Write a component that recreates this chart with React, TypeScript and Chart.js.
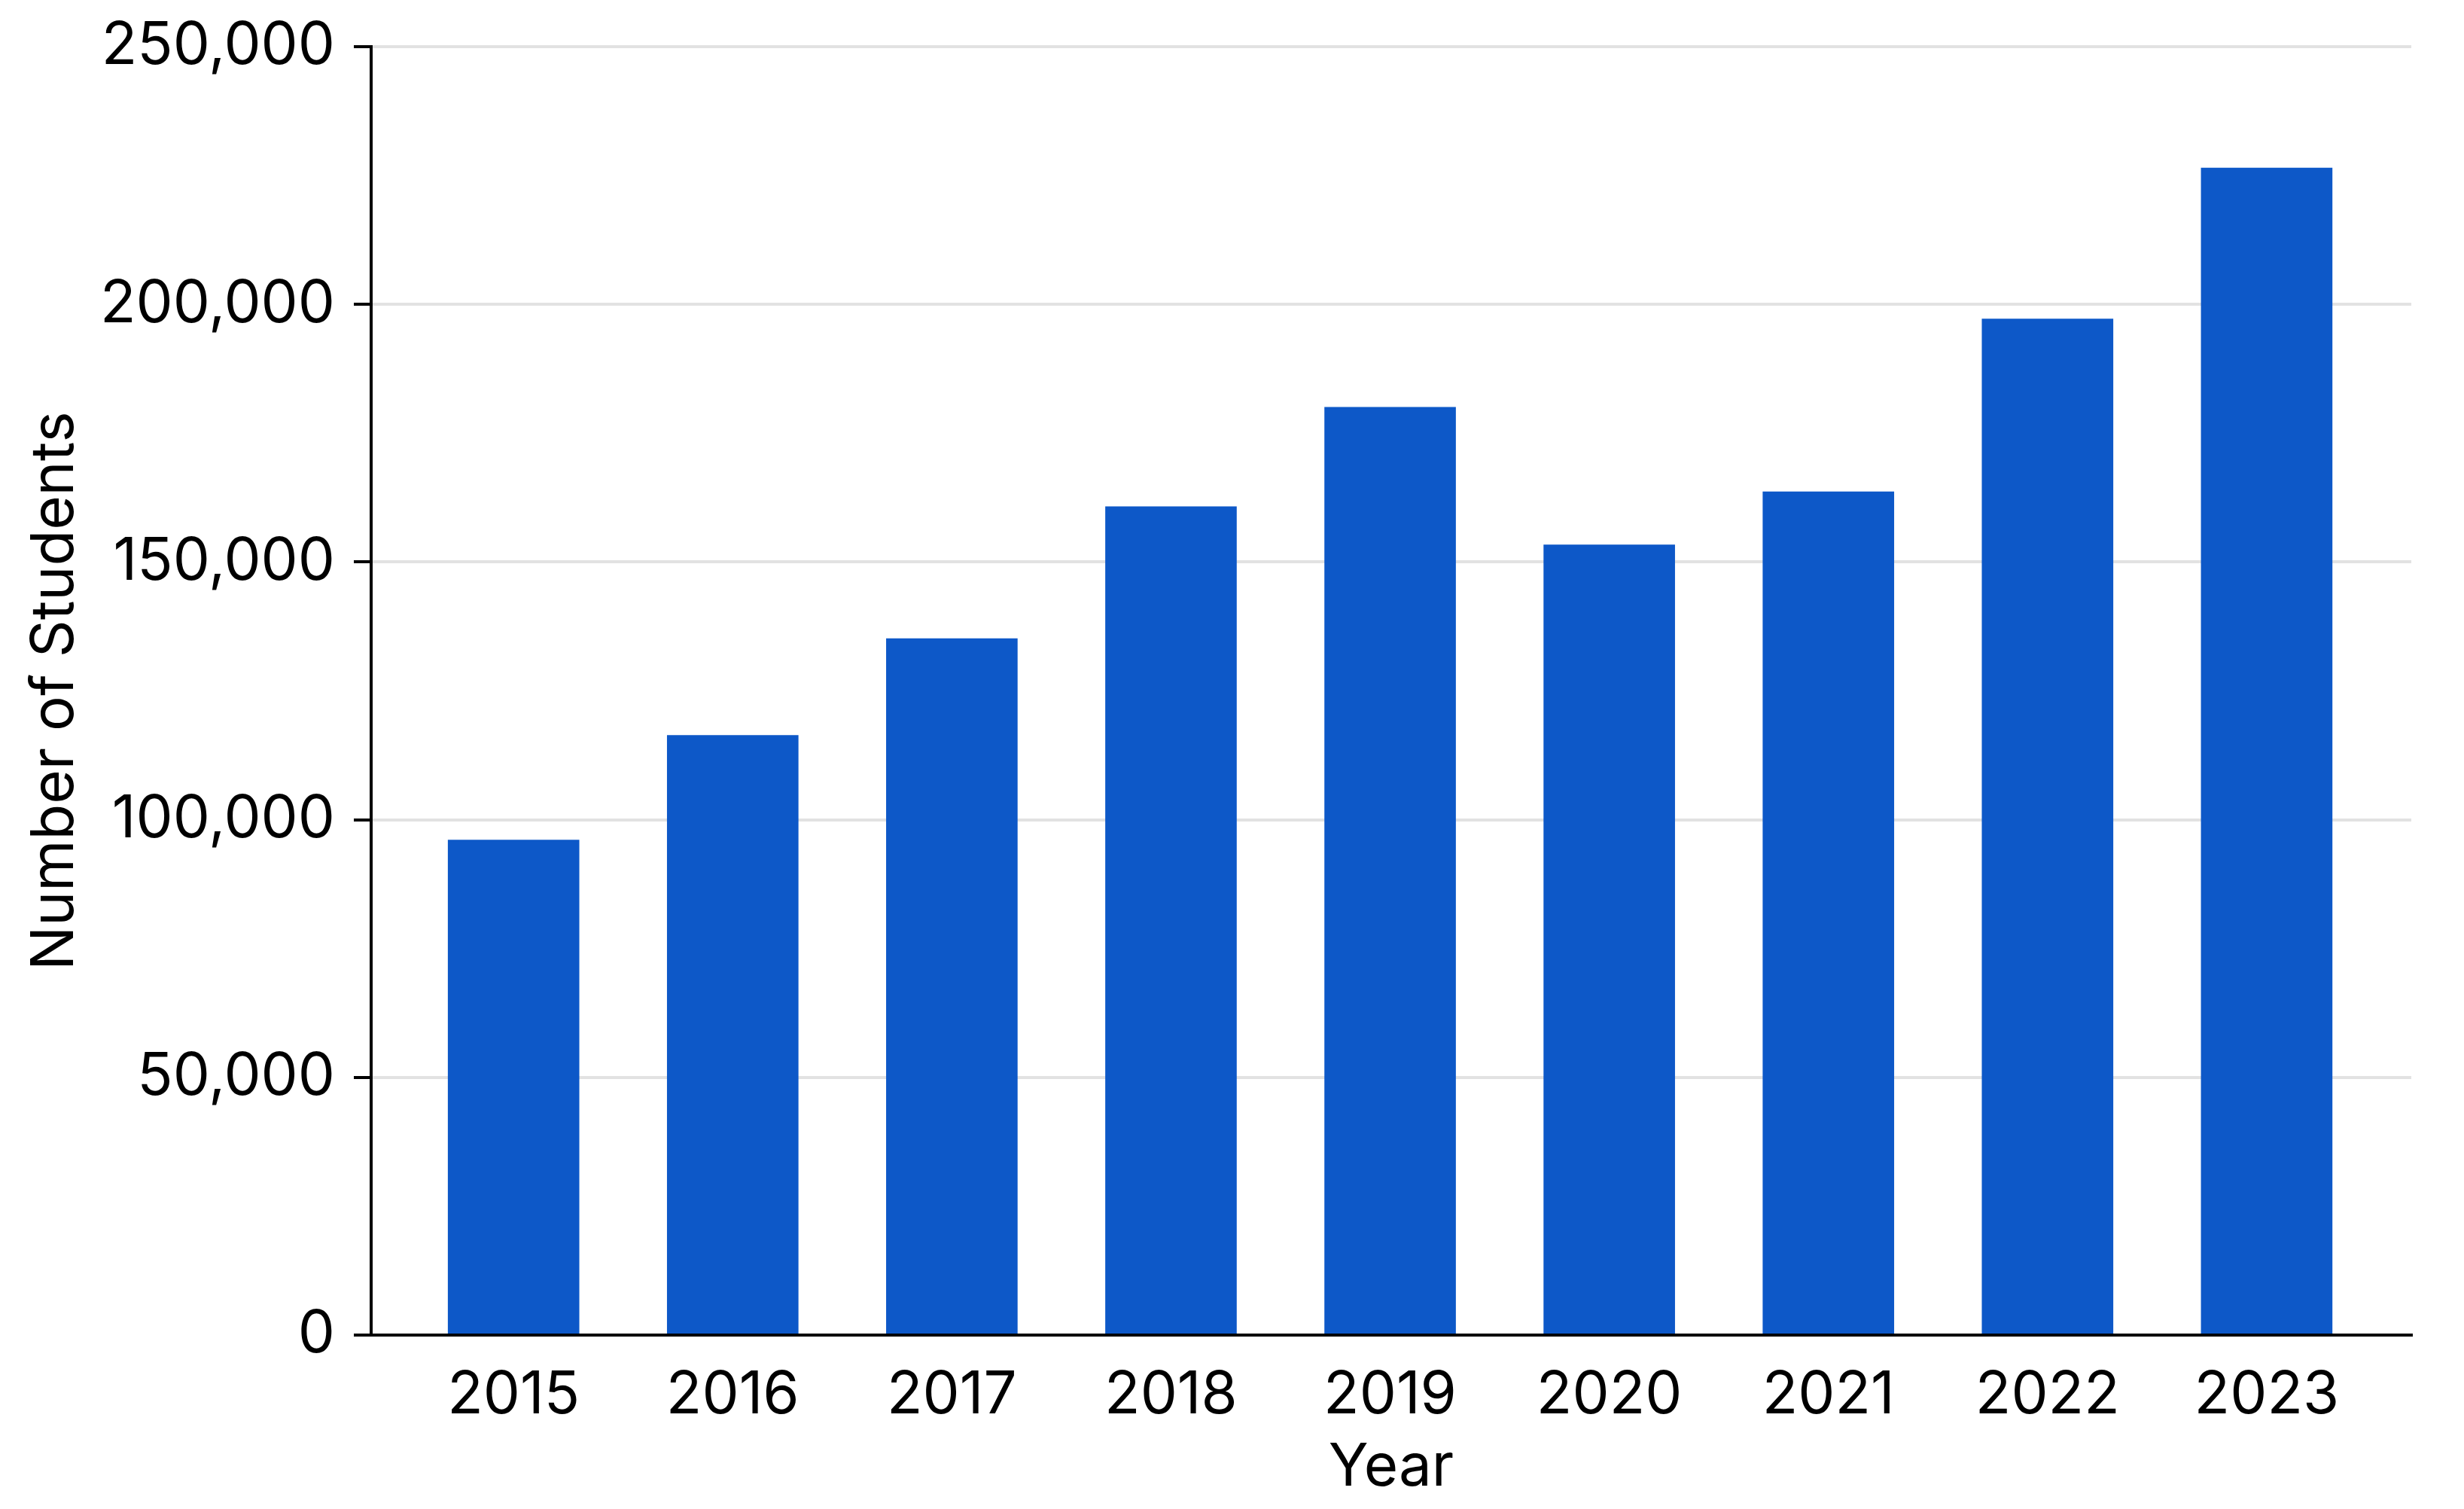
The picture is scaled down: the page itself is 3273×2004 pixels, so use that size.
import React, { useEffect, useRef } from "react";
import { Chart, registerables } from "chart.js";

Chart.register(...registerables);

const years = ["2015", "2016", "2017", "2018", "2019", "2020", "2021", "2022", "2023"];
const students = [96100, 116400, 135200, 160800, 180100, 153400, 163700, 197200, 226500];
const yTicks = [0, 50000, 100000, 150000, 200000, 250000];

const FONT = "Inter, 'Liberation Sans', Arial, sans-serif";
const FONT_SIZE = 78;

export default function App() {
  const ref = useRef<HTMLCanvasElement | null>(null);

  useEffect(() => {
    const canvas = ref.current;
    if (!canvas) return;
    const chart = new Chart(canvas, {
      type: "bar",
      data: {
        datasets: [
          {
            label: "Number of Students",
            data: years.map((_, i) => ({ x: i, y: students[i] })),
            backgroundColor: "#0d58c8",
            borderWidth: 0,
            categoryPercentage: 1,
            barPercentage: 0.6,
          },
        ],
      },
      options: {
        animation: false,
        responsive: false,
        devicePixelRatio: 1,
        layout: { padding: { top: 62, right: 70, bottom: 0, left: 0 } },
        plugins: { legend: { display: false }, tooltip: { enabled: false } },
        scales: {
          x: {
            type: "linear",
            offset: false,
            min: -0.65,
            max: 8.66,
            afterBuildTicks: (scale: any) => {
              scale.ticks = years.map((_, i) => ({ value: i }));
            },
            afterFit: (scale: any) => {
              scale.height = 231;
            },
            grid: { display: true, offset: false, color: "rgba(0,0,0,0)", drawTicks: false, lineWidth: 4 },
            border: { display: true, color: "#000000", width: 4 },
            ticks: {
              autoSkip: false,
              maxRotation: 0,
              padding: 34,
              color: "#000000",
              font: { family: FONT, size: FONT_SIZE },
              callback: (v: any) => years[v] ?? "",
            },
            title: {
              display: true,
              text: "Year",
              color: "#000000",
              font: { family: FONT, size: FONT_SIZE },
              padding: { top: 0, bottom: 8 },
            },
          },
          y: {
            type: "linear",
            min: 0,
            max: 250000,
            afterBuildTicks: (scale: any) => {
              scale.ticks = yTicks.map((v) => ({ value: v }));
            },
            afterFit: (scale: any) => {
              scale.width = 493;
              scale.paddingTop = 0;
              scale.paddingBottom = 0;
            },
            grid: {
              color: "#e2e2e2",
              lineWidth: 4,
              drawTicks: true,
              tickLength: 23,
              tickColor: "#000000",
              tickWidth: 4,
            },
            border: { display: true, color: "#000000", width: 4 },
            ticks: {
              padding: 25,
              color: "#000000",
              font: { family: FONT, size: FONT_SIZE },
              callback: (v: any) => Number(v).toLocaleString("en-US"),
            },
            title: {
              display: true,
              text: "Number of Students",
              color: "#000000",
              font: { family: FONT, size: FONT_SIZE },
              padding: { top: 27, bottom: 0 },
            },
          },
        },
      },
    });
    return () => chart.destroy();
  }, []);

  return (
    <div style={{ position: "fixed", left: 0, top: 0, width: 3273, height: 2004, background: "#ffffff" }}>
      <canvas ref={ref} width={3273} height={2004} style={{ display: "block", width: 3273, height: 2004 }} />
    </div>
  );
}
